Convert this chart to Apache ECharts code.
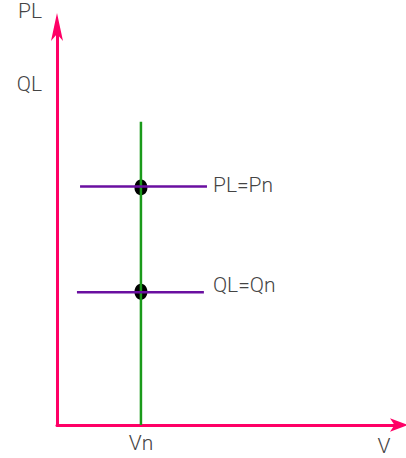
<!DOCTYPE html>
<html lang="en">
<head>
	<meta charset="UTF-8">
	<title>PL QL V</title>
	<script type="text/javascript" src="https://cdn.jsdelivr.net/npm/echarts@6/dist/echarts.min.js"></script>
	<style>
		html, body { margin: 0; padding: 0; background: #fff; }
		#chart_show { width: 406px; height: 458px; }
	</style>
</head>
<body>
	<div id="chart_show"></div>
	<script>
        // tick labels
        var xTickValues = [24.4];
        var xTickLabels = ['Vn'];
        var yTickValues = [85.3];
        var yTickLabels = ['QL'];

        // lines (x, y in axis units 0..100)
        var vnLine = [[24.4, 0], [24.4, 75.8]];
        var plLine = [[6.7, 59.6], [43.6, 59.6]];
        var qlLine = [[5.8, 33.2], [42.7, 33.2]];
        var points = [[24.4, 59.4], [24.4, 33.3]];

        var txt = {color: '#444', fontSize: 21, fontFamily: 'Roboto', fontWeight: 300};

        var oChart = echarts.init(document.getElementById('chart_show'), null, {renderer: 'svg'});

        var chartopt = {
            animation: false,
            grid: {left: 57, right: 5, top: 24, bottom: 33},
            xAxis: {
                type: 'value', min: 0, max: 100,
                name: 'V', nameLocation: 'end', nameGap: -17,
                nameTextStyle: Object.assign({align: 'center', verticalAlign: 'top', padding: [10, 0, 0, 0]}, txt),
                axisLine: {lineStyle: {color: '#ff0066', width: 3}, symbol: ['none', 'arrow'], symbolSize: [10, 18], symbolOffset: [0, 7]},
                axisTick: {show: false},
                splitLine: {show: false},
                axisLabel: Object.assign({
                    customValues: xTickValues, margin: 7,
                    formatter: function (v) { return xTickLabels[xTickValues.indexOf(v)] || ''; }
                }, txt)
            },
            yAxis: {
                type: 'value', min: 0, max: 100,
                name: 'PL', nameLocation: 'end', nameGap: 4,
                nameTextStyle: Object.assign({align: 'right', padding: [0, 15, 0, 0]}, txt),
                axisLine: {lineStyle: {color: '#ff0066', width: 3}, symbol: ['none', 'arrow'], symbolSize: [9, 28], symbolOffset: [0, 12]},
                axisTick: {show: false},
                splitLine: {show: false},
                axisLabel: Object.assign({
                    customValues: yTickValues, margin: 15,
                    formatter: function (v) { return yTickLabels[yTickValues.indexOf(v)] || ''; }
                }, txt)
            },
            series: [
                {type: 'line', data: vnLine, showSymbol: false, lineStyle: {color: '#1a9a1a', width: 2.5}},
                {type: 'line', data: plLine, showSymbol: false, lineStyle: {color: '#6a0fa0', width: 2.5},
                    endLabel: Object.assign({show: true, distance: 6, offset: [0, -2], formatter: 'PL=Pn'}, txt)},
                {type: 'line', data: qlLine, showSymbol: false, lineStyle: {color: '#6a0fa0', width: 2.5},
                    endLabel: Object.assign({show: true, distance: 9, offset: [0, -7], formatter: 'QL=Qn'}, txt)},
                {type: 'scatter', data: points, symbol: 'circle', symbolSize: [13, 16], itemStyle: {color: '#000', opacity: 1}, z: 1}
            ]
        };
        oChart.setOption(chartopt);
	</script>
</body>
</html>
